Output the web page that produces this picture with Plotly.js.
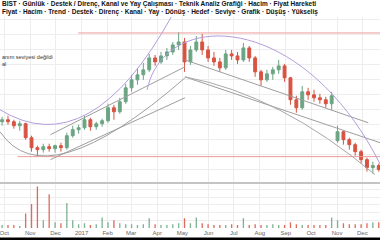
<!DOCTYPE html>
<html><head><meta charset="utf-8">
<script src="https://cdn.plot.ly/plotly-3.0.1.min.js"></script>
<style>html,body{margin:0;padding:0;background:#fff;}#c{width:380px;height:240px;}</style>
</head><body><div id="c"></div>
<script>
// weekly bars (week start)
const weeks = ['2016-09-26','2016-10-03','2016-10-10','2016-10-17','2016-10-24','2016-10-31','2016-11-07','2016-11-14','2016-11-21','2016-11-28','2016-12-05','2016-12-12','2016-12-19','2016-12-26','2017-01-02','2017-01-09','2017-01-16','2017-01-23','2017-01-30','2017-02-06','2017-02-13','2017-02-20','2017-02-27','2017-03-06','2017-03-13','2017-03-20','2017-03-27','2017-04-03','2017-04-10','2017-04-17','2017-04-24','2017-05-01','2017-05-08','2017-05-15','2017-05-22','2017-05-29','2017-06-05','2017-06-12','2017-06-19','2017-06-26','2017-07-03','2017-07-10','2017-07-17','2017-07-24','2017-07-31','2017-08-07','2017-08-14','2017-08-21','2017-08-28','2017-09-04','2017-09-11','2017-09-18','2017-09-25','2017-10-02','2017-10-09','2017-10-16','2017-10-23','2017-10-30','2017-11-06','2017-11-13','2017-11-20','2017-11-27','2017-12-04','2017-12-11','2017-12-18'];
const openP  = [7.8,8.0,7.8,7.4,7.6,6.2,5.2,5.0,5.3,5.1,5.4,5.2,6.4,7.0,7.2,8.0,7.3,7.6,7.9,9.2,8.8,9.8,11.2,12.0,12.5,13.0,14.2,13.8,14.4,14.8,15.5,15.8,13.8,15.0,15.8,15.0,14.2,13.8,13.2,14.6,14.4,14.0,15.2,14.2,12.8,12.0,12.6,13.0,13.4,12.2,10.0,9.2,10.8,10.5,10.2,10.0,9.6,5.9,6.8,6.0,5.5,4.8,4.0,3.2,3.4];
const highP  = [8.3,8.4,8.0,7.9,7.7,6.4,5.4,5.6,5.6,5.5,5.7,6.7,7.4,7.5,8.4,8.2,7.8,8.1,9.6,9.5,10.2,11.6,12.5,13.2,13.7,14.6,14.5,14.8,15.2,15.8,16.8,16.2,15.4,16.4,16.6,15.4,14.8,14.2,15.0,15.0,14.8,15.7,15.4,14.4,13.0,13.0,13.3,14.0,13.6,12.3,10.4,11.4,11.2,11.0,10.6,10.3,10.8,7.4,6.9,6.2,5.7,5.0,4.2,3.8,3.6];
const lowP   = [7.4,7.5,7.1,6.9,6.0,4.8,4.3,4.7,4.8,4.7,4.8,5.0,6.2,6.6,7.0,6.9,7.0,7.3,7.7,8.0,8.6,9.6,10.8,11.5,12.0,12.8,13.4,13.6,14.0,14.5,15.0,12.8,13.5,14.8,14.5,13.8,13.4,12.8,13.0,14.0,13.6,13.8,13.8,12.3,11.4,11.8,12.0,12.6,11.8,9.5,8.7,9.0,10.0,9.8,9.6,9.2,9.0,5.7,5.5,5.0,4.4,3.6,2.8,2.6,2.8];
const closeP = [8.0,7.8,7.4,7.6,6.2,5.2,5.0,5.3,5.1,5.4,5.2,6.4,7.0,7.2,8.0,7.3,7.6,7.9,9.2,8.8,9.8,11.2,12.0,12.5,13.0,14.2,13.8,14.4,14.8,15.5,15.8,13.8,15.0,15.8,15.0,14.2,13.8,13.2,14.6,14.4,14.0,15.2,14.2,12.8,12.0,12.6,13.0,13.4,12.2,10.0,9.2,10.8,10.5,10.2,10.0,9.6,10.4,6.8,6.0,5.5,4.8,4.0,3.2,3.4,3.0];
const volume = [3,3,3,2,15,25,43,8,35,6,5,26,8,4,5,3,4,11,6,8,5,4,4,3,4,10,4,3,3,4,5,10,5,11,5,4,3,3,3,4,3,10,3,4,3,3,4,3,3,6,4,3,3,3,3,3,11,8,5,4,4,4,5,6,6];

// x-axis month labels
const tickDates = ['2016-10-01','2016-11-01','2016-12-01','2017-01-01','2017-02-01','2017-03-01','2017-04-01','2017-05-01','2017-06-01','2017-07-01','2017-08-01','2017-09-01','2017-10-01','2017-11-01','2017-12-01'];
const tickLabels = ['Oct','Nov','Dec','2017','Feb','Mar','Apr','May','Jun','Jul','Aug','Sep','Oct','Nov','Dec'];

// drawn levels / trend lines (date, price anchors)
const resistance = {x0:'2016-12-28', x1:'2017-12-22', level:16.7};
const support    = {x0:'2016-10-17', x1:'2017-12-22', level:4.3};
const upChannel  = [['2016-11-25',6.5,'2017-05-04',13.3],['2016-11-25',4.0,'2017-05-04',10.2]];
const downChannel= [['2017-05-04',14.0,'2017-12-08',7.7],['2017-05-04',12.3,'2017-12-22',5.7]];
const arcs = [
  {d:'M2016-09-26,9.0 Q2017-01-11,3.5 2017-04-19,18.5', c:'#b39ddb'},
  {d:'M2016-09-26,6.8 Q2016-11-19,0.0 2017-05-04,12.2', c:'#9e9e9e'},
  {d:'M2017-05-04,12.3 Q2017-08-25,10.5 2017-12-16,2.5', c:'#a8a8a8'},
  {d:'M2017-03-20,11.0 C2017-04-10,19.5 2017-10-01,19.0 2017-12-31,2.0', c:'#b39ddb'}
];

const upC='#6ba583', dnC='#d75442';
const volColors = closeP.map((c,i)=> c>=openP[i] ? 'rgba(107,165,131,0.85)' : 'rgba(215,84,66,0.85)');

const traces = [
 {type:'candlestick', x:weeks, open:openP, high:highP, low:lowP, close:closeP,
  xperiod:604800000, xperiodalignment:'middle',
  increasing:{line:{color:upC,width:1},fillcolor:upC},
  decreasing:{line:{color:dnC,width:1},fillcolor:dnC},
  whiskerwidth:0, xaxis:'x', yaxis:'y', hoverinfo:'skip'},
 {type:'bar', x:weeks, y:volume, xperiod:604800000, xperiodalignment:'middle',
  marker:{color:volColors, line:{width:0}}, width:1.6*86400000, xaxis:'x', yaxis:'y2', hoverinfo:'skip'}
];

const shapes = [];
shapes.push({type:'line',xref:'x',yref:'y',x0:resistance.x0,x1:resistance.x1,y0:resistance.level,y1:resistance.level,line:{color:'#ef9a9a',width:1}});
shapes.push({type:'line',xref:'x',yref:'y',x0:support.x0,x1:support.x1,y0:support.level,y1:support.level,line:{color:'#ef9a9a',width:1}});
upChannel.concat(downChannel).forEach(l=>shapes.push({type:'line',xref:'x',yref:'y',x0:l[0],y0:l[1],x1:l[2],y1:l[3],line:{color:'#9e9e9e',width:1}}));
arcs.forEach(a=>shapes.push({type:'path',xref:'x',yref:'y',path:a.d,line:{color:a.c,width:1}}));
// panel separator and bottom bar
shapes.push({type:'line',xref:'paper',yref:'paper',x0:0,x1:1,y0:0.213,y1:0.213,line:{color:'#b0b0b0',width:1.5}});
shapes.push({type:'rect',xref:'paper',yref:'paper',x0:0,x1:1,y0:-0.045,y1:-0.06,fillcolor:'#000',line:{width:0}});

const layout = {
 width:380, height:240, margin:{l:0,r:0,t:17,b:12},
 paper_bgcolor:'#fff', plot_bgcolor:'#fff', showlegend:false,
 font:{family:'Liberation Sans, Arial, sans-serif', size:7, color:'#555'},
 xaxis:{type:'date', range:['2016-09-26','2017-12-22'], tickvals:tickDates, ticktext:tickLabels,
   showgrid:true, gridcolor:'#ededed', gridwidth:1, zeroline:false, showline:false, ticklabeloverflow:'allow',
   ticks:'', tickfont:{size:6,color:'#666'}, rangeslider:{visible:false}, anchor:'y2', fixedrange:true},
 yaxis:{domain:[0.22,1], range:[1.8,18.3], showticklabels:false, showgrid:true, gridcolor:'#ededed', dtick:1.5, zeroline:false},
 yaxis2:{domain:[0,0.21], range:[0,46], showticklabels:false, showgrid:true, gridcolor:'#ededed', dtick:8, zeroline:false},
 shapes:shapes,
 annotations:[
  {xref:'paper',yref:'paper',x:0,y:1.062,xanchor:'left',yanchor:'middle',showarrow:false,
   text:'<b>BIST · Günlük · Destek / Direnç, Kanal ve Yay Çalışması · Teknik Analiz Grafiği · Hacim · Fiyat Hareketi</b>',font:{size:6.5,color:'#111'}},
  {xref:'paper',yref:'paper',x:0,y:1.026,xanchor:'left',yanchor:'middle',showarrow:false,
   text:'<b>Fiyat · Hacim · Trend · Destek · Direnç · Kanal · Yay · Dönüş · Hedef · Seviye · Grafik · Düşüş · Yükseliş</b>',font:{size:6.5,color:'#111'}},
  {xref:'paper',yref:'y',x:0,y:14.8,xanchor:'left',yanchor:'top',showarrow:false,align:'left',
   text:'anım seviyesi değildi<br>al',font:{size:5.5,color:'#333'}}
 ]
};
Plotly.newPlot('c', traces, layout, {displayModeBar:false, staticPlot:true});
</script></body></html>
